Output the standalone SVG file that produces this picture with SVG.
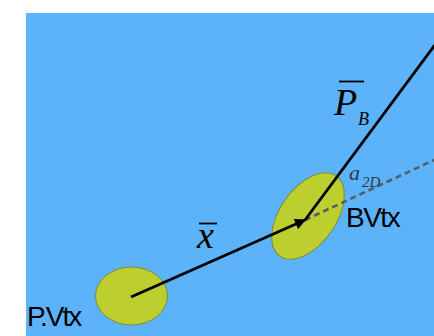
<svg xmlns="http://www.w3.org/2000/svg" width="434" height="336" viewBox="0 0 434 336">
<style>
.vtx{fill:#BCCF2E;stroke:#7C8E3A;stroke-width:1}
.lbl{font-family:'Liberation Sans',Arial,sans-serif;font-size:28px;fill:#000}
.math{font-family:'Liberation Serif','DejaVu Serif',serif;font-style:italic;fill:#000}
.vec{stroke:#000;stroke-width:2.8;fill:none}
.bar{stroke:#000;stroke-width:1.8}
</style>
<defs>
<marker id="ah" viewBox="0 0 10 10" refX="9" refY="5" markerWidth="4" markerHeight="4" orient="auto" markerUnits="strokeWidth">
<path d="M0,0 L10,5 L0,10 z" fill="#000"/>
</marker>
</defs>
<rect x="26" y="13" width="408" height="323" fill="#5DB3F9"/>
<g id="pvtx">
<ellipse class="vtx" cx="131.5" cy="296" rx="36" ry="29"/>
<text class="lbl" x="27" y="326" letter-spacing="-2">P.Vtx</text>
</g>
<g id="bvtx">
<ellipse class="vtx" cx="308" cy="216" rx="49" ry="28" transform="rotate(-55 308 216)"/>
<text class="lbl" x="346" y="227" letter-spacing="-1.5">BVtx</text>
</g>
<g id="connectors">
<line x1="305" y1="220" x2="434" y2="160" stroke="#535D66" stroke-width="2.6" stroke-dasharray="6,4"/>
<line class="vec" x1="305" y1="220" x2="440" y2="38"/>
<line class="vec" x1="131" y1="297" x2="305" y2="220" marker-end="url(#ah)"/>
</g>
<g id="labels">
<text class="math" font-family="'Liberation Serif', serif" x="197" y="248" font-size="38">x</text>
<line class="bar" x1="199" y1="223.5" x2="217" y2="223.5"/>
<text class="math" font-family="'Liberation Serif', serif" x="334" y="115" font-size="38">P</text>
<line class="bar" x1="339" y1="81.5" x2="364" y2="81.5"/>
<text class="math" font-family="'Liberation Serif', serif" x="358" y="125" font-size="18">B</text>
<text class="math" font-family="'Liberation Serif', serif" x="349" y="180" font-size="22" style="fill:#2E3A48">a</text>
<text class="math" font-family="'Liberation Serif', serif" x="362" y="187" font-size="15" style="fill:#2E3A48">2D</text>
</g>
</svg>
